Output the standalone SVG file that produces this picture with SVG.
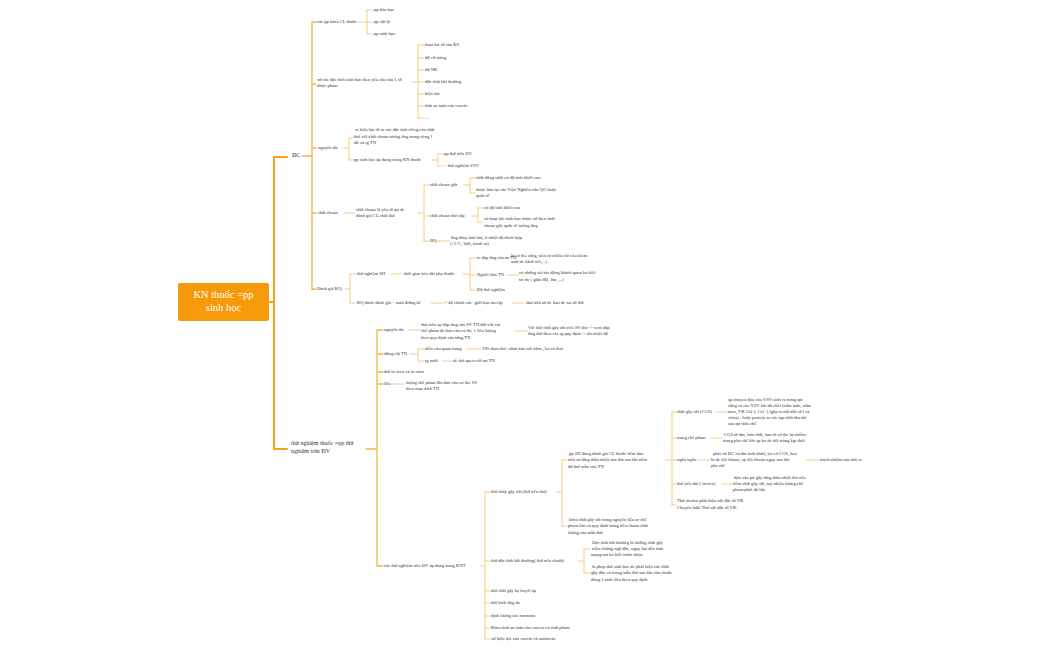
<svg xmlns="http://www.w3.org/2000/svg" width="1050" height="650" viewBox="0 0 1050 650">
<style>
text{font-family:"Liberation Serif","DejaVu Serif",serif;font-size:4.6px;fill:#333;dominant-baseline:middle}
.l2{font-size:6px}
.root{font-size:10.5px;fill:#fff;text-anchor:middle}
.c0{fill:none;stroke:#f7a21b;stroke-width:2;stroke-linecap:round}
.c1{fill:none;stroke:#f9b443;stroke-width:1.3;stroke-linecap:round}
.c2{fill:none;stroke:#fcca85;stroke-width:1;stroke-linecap:round}
</style>
<rect width="1050" height="650" fill="#fff"/>
<g id="connectors">
<path class="c0" d="M269,302H274M274,157V449M274,157H287M274,449H287"/>
<path class="c1" d="M302,156H312M312,22V290M312,22H316M312,84H316M312,148H316M312,213H316M312,289H316"/>
<path class="c1" d="M366,449H377M377,330V566M377,330H383M377,354H383M377,372H383M377,384H383M377,566H383"/>
<path class="c2" d="M358,22H367M367,10V34M367,10H373M367,22H373M367,34H373"/>
<path class="c2" d="M412,82H418M418,45V118M418,45H424M418,58H424M418,70H424M418,82H424M418,94H424M418,106H424M418,118H424"/>
<path class="c2" d="M343,148H349M349,138V160M349,138H353M349,160H353M432,160H438M438,154V166M438,154H443M438,166H443"/>
<path class="c2" d="M344,213H355M418,213H424M424,185V241M424,185H429M424,216H429M424,241H429"/>
<path class="c2" d="M464,185H470M470,178V193M470,178H475M470,193H475M472,216H478M478,208V222M478,208H483M478,222H483M437,241H449"/>
<path class="c2" d="M345,289H350M350,274V303M350,274H356M350,303H356M391,274H402M463,274H470M470,258V290M470,258H476M470,275H476M470,290H476M504,258H510M507,275H518M431,303H442M512,303H524"/>
<path class="c2" d="M409,330H420M515,331H527M410,354H418M418,349V361M418,349H424M418,361H424M467,349H481M442,361H452M393,384H405"/>
<path class="c2" d="M480,566H485M485,492V639M485,492H490M485,561H490M485,591H490M485,603H490M485,616H490M485,628H490M485,639H490"/>
<path class="c2" d="M556,492H562M562,460V526M562,460H567M562,526H567M665,460H672M672,412V505M672,412H676M672,438H676M672,460H676M672,484H676M672,505H676"/>
<path class="c2" d="M716,412H727M711,438H722M698,460H710M806,460H819M722,484H732M578,561H584M584,549V573M584,549H590M584,573H590"/>
</g>
<g id="root"><rect x="178" y="283" width="91" height="38" rx="2" fill="#f79a0a"/><text class="root" x="223.5" y="296">KN thuốc =pp</text><text class="root" x="223.5" y="309">sinh học</text></g>
<g id="dc"><text class="l2" x="292" y="156">ĐC</text></g>
<g id="n1"><text x="317" y="22">các pp kttra CL thuốc</text></g>
<g id="n1a"><text x="374" y="10">pp hóa học</text><text x="374" y="22">pp vật lý</text><text x="374" y="34">pp sinh học</text></g>
<g id="n2"><text x="317" y="80">xđ các đặc tính sinh học theo yêu cầu của 1 số</text><text x="317" y="86">dược phẩm</text></g>
<g id="n2a"><text x="425" y="45">hoạt lực tố của KS</text><text x="425" y="58">độ vô trùng</text><text x="425" y="70">độ NK</text><text x="425" y="82">độc tính bất thường</text><text x="425" y="94">hiệu lực</text><text x="425" y="106">tính an toàn của vaccin</text><text x="425" y="118">...</text></g>
<g id="n3"><text x="318" y="148">nguyên tắc</text></g>
<g id="n3a"><text x="355" y="130">ss hiệu lực tố or các đặc tính riêng của chất</text><text x="354" y="137">thử với chất chuẩn tương ứng trong cùng 1</text><text x="354" y="143">đk và tg TN</text><text x="354" y="160">pp sinh học áp dụng trong KN thuốc</text></g>
<g id="n3b"><text x="444" y="154">pp thử trên ĐV</text><text x="444" y="166">+ thử nghiệm VSV</text></g>
<g id="n4"><text x="318" y="213">chất chuẩn</text><text x="356" y="210">chất chuẩn là yêu tố qtr để</text><text x="356" y="216">đánh giá CL chất thử</text></g>
<g id="n4a"><text x="430" y="185">chất chuẩn gốc</text><text x="430" y="216">chất chuẩn thứ cấp</text><text x="430" y="241">BQ</text></g>
<g id="n4b"><text x="476" y="178">chất đồng nhất có độ tinh khiết cao</text><text x="476" y="190">được làm tại các Viện Nghiên cứu QG hoặc</text><text x="476" y="196">quốc tế</text><text x="484" y="208">có độ tinh khiết cao</text><text x="484" y="219">có hoạt lực sinh học được xđ theo chất</text><text x="484" y="226">chuẩn gốc quốc tế tương ứng</text><text x="451" y="238">ống thủy tinh kín, ở nhiệt độ thích hợp</text><text x="450" y="244">(&lt;5°C, khô, tránh as)</text></g>
<g id="n5"><text x="317" y="289">Đánh giá KQ</text><text x="357" y="274">thử nghiệm SH</text><text x="404" y="274">thời gian kéo dài phụ thuộc</text><text x="357" y="303">KQ được đánh giá + toán thống kê</text><text x="443" y="303">-&gt; độ chính xác- giới hạn tin cậy</text><text x="526" y="303">làm khả nă để loại dc sai số thô</text></g>
<g id="n5a"><text x="477" y="258">tc đáp ứng của sv TN</text><text x="511" y="256">là cơ thể sống, nên có nhiều cái t ko kiểm</text><text x="511" y="262">soát dc (thời tiết,...)</text><text x="477" y="275">Người làm TN</text><text x="519" y="273">có những cái tác động khách quan ko biết</text><text x="519" y="280">trc dc ( giận dỗi, ốm ,...)</text><text x="477" y="290">Độ thử nghiệm</text></g>
<g id="tn"><text class="l2" x="291" y="444">thử nghiệm  thuốc =pp thử</text><text class="l2" x="291" y="452">nghiệm trên ĐV</text></g>
<g id="t1"><text x="384" y="330">nguyên tắc</text><text x="421" y="325">dựa trên sự đáp ứng của SV TN đối với các</text><text x="421" y="331">chế phẩm dc đưa vào cơ thể 1 liều lượng</text><text x="421" y="338">theo quy định của từng TN</text><text x="528" y="328">Vd: thử chất gây sốt trên SV thỏ -&gt; xem đáp</text><text x="528" y="334">ứng thử theo các tg quy định -&gt; đo nhiệt độ</text></g>
<g id="t2"><text x="384" y="354">động vật TN</text><text x="425" y="349">điều vào quan trọng</text><text x="482" y="349">VD chọn thỏ : đảm bảo sức khỏe, ko có thai</text><text x="425" y="361">tg nuôi</text><text x="453" y="361">để thỏ quen với mt TN</text></g>
<g id="t3"><text x="384" y="372">thử in vivo và in vitro</text></g>
<g id="t4"><text x="384" y="384">liều</text><text x="406" y="383">lượng chế phẩm lần đưa vào cơ thể SV</text><text x="406" y="389">theo mục đích TN</text></g>
<g id="t5"><text x="384" y="566">các thử nghiệm trên ĐV áp dụng trong KNT</text></g>
<g id="s1"><text x="491" y="492">thử chấy gây sốt (thử trên thỏ)</text><text x="569" y="454">pp SH dùng đánh giá CL thuốc tiêm dựa</text><text x="568" y="460">trên sự tăng thân nhiệt của thỏ sau khi tiêm</text><text x="568" y="467">dd thử mẫu vào TN</text><text x="569" y="520">kttra chất gây sốt trong nguyên liệu or chế</text><text x="568" y="526">phẩm khi có quy định trong tiêu chuẩn chất</text><text x="568" y="533">lượng của mẫu thử</text></g>
<g id="s1a"><text x="677" y="412">chất gây sốt (CGS)</text><text x="728" y="400">sp chuyển hóa của VSV sinh ra trong qtr</text><text x="728" y="406">sống và các VSV khi đã chết (nấm mốc, nấm</text><text x="728" y="412">men, VK Gr(-), Gr(+) (gây ra nội độc tố l và</text><text x="728" y="418">virus) : hoặc protein or các tạp chất tồn dư</text><text x="728" y="424">sau qtr tinh chế</text></g>
<g id="s1b"><text x="677" y="438">trong chế phẩm</text><text x="724" y="435">CGS từ dm, hóa chất, bao bì có thể bị nhiễm</text><text x="723" y="441">trong pha chế khi sp ko đc tiệt trùng kịp thời</text></g>
<g id="s1c"><text x="677" y="460">ngăn ngừa</text><text x="713" y="454">phải xđ ĐC và dm tinh khiết, ko có CGS, bao</text><text x="711" y="460">bì dc tiệt khuẩn, sp tiệt khuẩn ngay sau khi</text><text x="711" y="466">pha chế</text><text x="820" y="460">trách nhiệm của nhà cc</text></g>
<g id="s1d"><text x="677" y="484">thử trên thỏ ( invivo)</text><text x="734" y="478">dựa vào pư gây tăng thân nhiệt thỏ nếu</text><text x="733" y="484">tiêm chất gây sốt, tuy nhiều lượng chế</text><text x="733" y="490">phẩm phải đủ lớn</text></g>
<g id="s1e"><text x="677" y="501">Thử invitro phát hiện nội độc tố VK.</text><text x="677" y="508">Chuyên luận Thử nội độc tố VK.</text></g>
<g id="s2"><text x="491" y="561">thử độc tính bất thường( thử trên chuột)</text><text x="592" y="543">Độc tính bất thường là những chất gây</text><text x="592" y="549">triệu chứng ngộ độc, nguy hại đến tính</text><text x="591" y="555">mạng mà ko biết trước được</text><text x="592" y="567">là phép thử sinh học để phát hiện các chất</text><text x="591" y="573">gây độc có trong mẫu thử sau khi cho chuột</text><text x="591" y="580">dùng 1 mức liều theo quy định</text></g>
<g id="s3"><text x="491" y="591">thử chất gây hạ huyết áp</text><text x="491" y="603">thử kích ứng da</text><text x="491" y="616">định lượng các hormone</text><text x="491" y="628">Kttra tính an toàn của vaccin và sinh phẩm</text><text x="491" y="639">xđ hiệu lực của vaccin và antitoxin</text></g>
</svg>
